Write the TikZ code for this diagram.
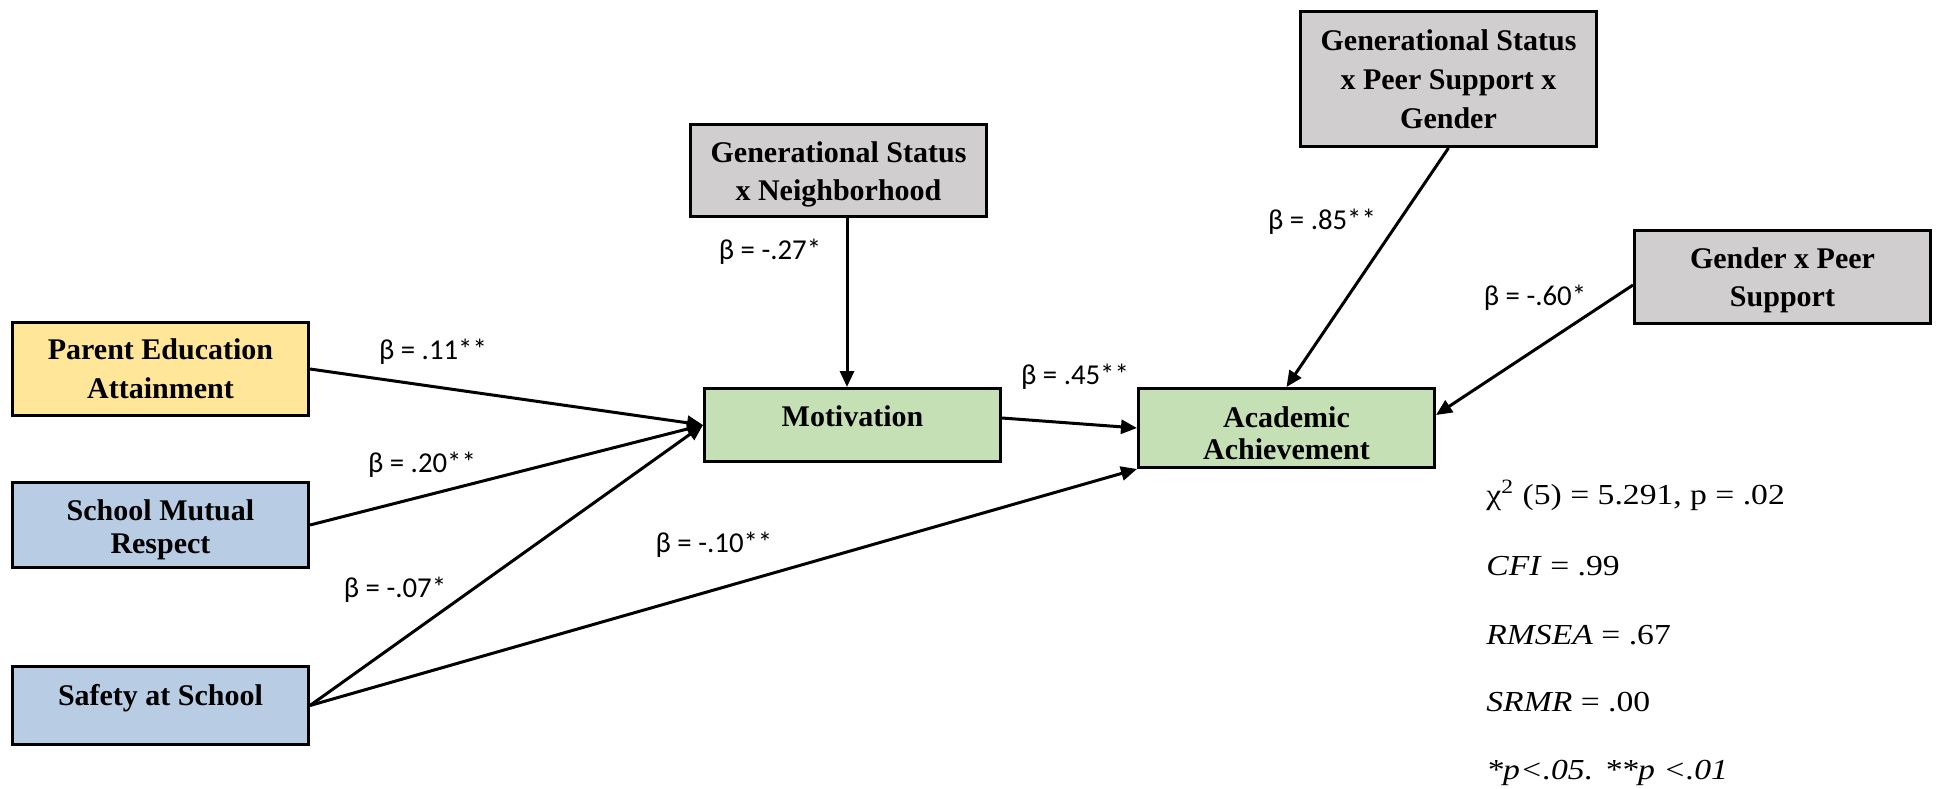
\documentclass[tikz,border=0pt]{standalone}
\usepackage{fontspec}
\usepackage{graphicx}
\setmainfont{Liberation Serif}
\newfontfamily\calfont{Carlito}
\usetikzlibrary{arrows.meta,calc}
\definecolor{cyel}{HTML}{FFE699}
\definecolor{cblu}{HTML}{B8CCE4}
\definecolor{cgrn}{HTML}{C5E0B4}
\definecolor{cgry}{HTML}{D0CECE}
\newcommand{\statline}[1]{\scalebox{1.16}[1]{#1}}
\begin{document}
\begin{tikzpicture}[x=0.5pt,y=-0.5pt,
  box/.style={draw=black, line width=1.5pt, inner sep=0pt, minimum width=148pt},
  txt/.style={font=\bfseries\fontsize{15}{19.5}\selectfont, align=center, inner sep=0pt},
  arr/.style={line width=1.5pt, -{Triangle[length=8pt,width=7pt]}},
  beta/.style={font=\calfont\fontsize{14.4}{16}\selectfont, inner sep=0pt},
  stat/.style={font=\fontsize{14.5}{16}\selectfont, anchor=base west, inner sep=0pt}]
\useasboundingbox (0,0) rectangle (1938,788);

\node[box, fill=cyel, minimum height=46.5pt] (pe) at (160.5,369) {};
\node[box, fill=cblu, minimum height=42.5pt] (smr) at (160.5,525) {};
\node[box, fill=cblu, minimum height=39pt] (saf) at (160.5,705.5) {};
\node[box, fill=cgry, minimum height=46pt] (gn) at (838.5,170.5) {};
\node[box, fill=cgrn, minimum height=36.5pt] (mot) at (852.5,425) {};
\node[box, fill=cgry, minimum height=67.5pt] (gp) at (1448.5,79) {};
\node[box, fill=cgrn, minimum height=39.5pt] (ac) at (1286.5,428) {};
\node[box, fill=cgry, minimum height=46.5pt] (gen) at (1782.5,277) {};

\node[txt] (pe-t) at (pe.center) {Parent Education\\Attainment};
\node[txt, font=\bfseries\fontsize{15}{16.5}\selectfont] (smr-t) at ($(smr.center)+(0,5)$) {School Mutual\\Respect};
\node[txt] (saf-t) at ($(saf.center)+(0,-7)$) {Safety at School};
\node[txt, font=\bfseries\fontsize{15}{19}\selectfont] (gn-t) at ($(gn.center)+(0,4)$) {Generational Status\\x Neighborhood};
\node[txt] (mot-t) at ($(mot.center)+(0,-9)$) {Motivation};
\node[txt] (gp-t) at (gp.center) {Generational Status\\x Peer Support x\\Gender};
\node[txt, font=\bfseries\fontsize{15}{16}\selectfont] (ac-t) at ($(ac.center)+(0,5)$) {Academic\\Achievement};
\node[txt, font=\bfseries\fontsize{15}{19}\selectfont] (gen-t) at ($(gen.center)+(0,3.5)$) {Gender x Peer\\Support};

\coordinate (vx) at (847,0);

\draw[arr] (pe.east) -- (mot.west);
\draw[arr] (smr.east) -- (mot.west);
\draw[arr] (saf.east) -- (mot.west);
\draw[arr] (saf.east) -- (ac.south west);
\draw[arr] ([yshift=3.5pt]mot.east) -- (ac.west);
\draw[arr] (gn.south -| vx) -- (mot.north -| vx);
\draw[arr] (gp.south) -- (ac.north);
\draw[arr] ([yshift=-4pt]gen.west) -- ([yshift=6.5pt]ac.east);

\node[beta] (b1) at (433,352) {β = .11**};
\node[beta] (b2) at (422,465) {β = .20**};
\node[beta] (b3) at (395,590) {β = -.07*};
\node[beta] (b4) at (714,545) {β = -.10**};
\node[beta] (b5) at (1075,377) {β = .45**};
\node[beta] (b6) at (770,252) {β = -.27*};
\node[beta] (b7) at (1322,222) {β = .85**};
\node[beta] (b8) at (1535,298) {β = -.60*};

\node[stat] (s1) at (1486,504) {\statline{χ\textsuperscript{2} (5) = 5.291, p = .02}};
\node[stat] (s2) at (1486,575) {\statline{\textit{CFI} = .99}};
\node[stat] (s3) at (1486,644) {\statline{\textit{RMSEA} = .67}};
\node[stat] (s4) at (1486,711) {\statline{\textit{SRMR} = .00}};
\node[stat] (s5) at (1486,779) {\statline{\textit{*p<.05. **p <.01}}};
\end{tikzpicture}
\end{document}
